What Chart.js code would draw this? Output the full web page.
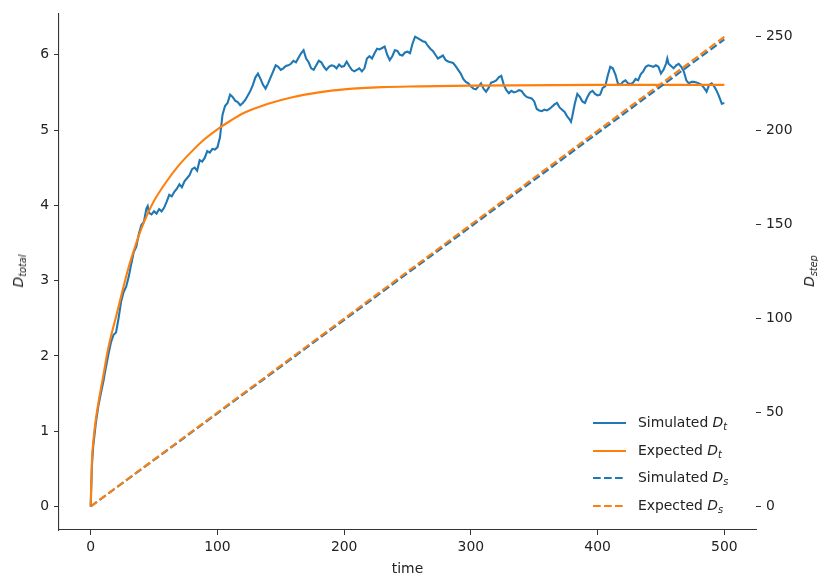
<!DOCTYPE html>
<html>
<head>
<meta charset="utf-8">
<script src="https://cdn.jsdelivr.net/npm/chart.js@4.4.1/dist/chart.umd.min.js"></script>
<style>
  body { margin: 0; background: #fff; }
  #wrap { position: relative; width: 818px; height: 579px; font-family: 'DejaVu Sans', sans-serif; color: #222; }
  #chart { position: absolute; left: 0; top: 0; }
  .ylab { position: absolute; font-size: 13.9px; font-style: italic; white-space: nowrap; transform: translate(-50%, -50%) rotate(-90deg); }
  .ylab sub, .leg sub { font-size: 70%; vertical-align: baseline; position: relative; top: 0.3em; }
  .leg { position: absolute; left: 593px; top: 410px; font-size: 13.9px; }
  .leg div { height: 27.6px; line-height: 24px; white-space: nowrap; }
  .leg svg { vertical-align: middle; margin-right: 12px; }
</style>
</head>
<body>
<div id="wrap">
  <canvas id="chart" width="818" height="579"></canvas>
  <div class="ylab" style="left:18px; top:271px;">D<sub>total</sub></div>
  <div class="ylab" style="left:809px; top:271px;">D<sub>step</sub></div>
  <div class="leg" id="legend"></div>
</div>
<script>
var blue = '#1f77b4';
var orange = '#ff7f0e';

var timeTicks = [0, 100, 200, 300, 400, 500];
var totalTicks = [0, 1, 2, 3, 4, 5, 6];
var stepTicks = [0, 50, 100, 150, 200, 250];

// simulated D_t
var simTime = [0, 1, 2, 4, 6, 8, 10, 12, 14, 16, 18, 20, 22, 24, 26, 28, 30, 32, 34, 36, 38, 40, 42, 44, 45, 46, 48,
  50, 52, 54, 56, 58, 60, 62, 64, 66, 68, 70, 72, 74, 76, 78, 80, 82, 84, 86, 88, 90, 92, 94, 96, 98,
  100, 102, 104, 106, 108, 110, 112, 114, 116, 118, 120, 122, 124, 126, 128, 130, 132, 134, 136, 138, 140, 142, 144, 146, 148,
  150, 152, 154, 156, 158, 160, 162, 164, 166, 168, 170, 172, 174, 176, 178, 180, 182, 184, 186, 188, 190, 192, 194, 196, 198,
  200, 202, 204, 206, 208, 210, 212, 214, 216, 218, 220, 222, 224, 226, 228, 230, 232, 234, 236, 238, 240, 242, 244, 246, 248,
  250, 252, 254, 256, 258, 260, 262, 264, 266, 268, 270, 272, 274, 276, 278, 280, 282, 284, 286, 288, 290, 292, 294, 296, 298,
  300, 302, 304, 306, 308, 310, 312, 314, 316, 318, 320, 322, 324, 326, 328, 330, 332, 334, 336, 338, 340, 342, 344, 346, 348,
  350, 352, 354, 356, 358, 360, 362, 364, 366, 368, 370, 372, 374, 376, 378, 379, 380, 382, 384, 386, 388, 390, 392, 394, 396, 398,
  400, 402, 404, 406, 408, 410, 412, 414, 416, 418, 420, 422, 424, 426, 428, 430, 432, 434, 436, 438, 440, 442, 444, 446, 448,
  450, 452, 454, 455, 456, 458, 460, 462, 464, 466, 468, 470, 472, 474, 476, 478, 480, 482, 484, 486, 488, 490, 492, 494, 496, 498, 500];
var simTotal = [0, 0.55, 0.80, 1.10, 1.33, 1.50, 1.66, 1.85, 2.02, 2.18, 2.28, 2.31, 2.50, 2.72, 2.85, 2.92, 3.05, 3.22, 3.38, 3.45, 3.62, 3.74, 3.78, 3.96, 3.99, 3.90, 3.88,
  3.92, 3.89, 3.95, 3.92, 3.97, 4.05, 4.14, 4.12, 4.18, 4.22, 4.28, 4.24, 4.32, 4.36, 4.40, 4.48, 4.50, 4.46, 4.60, 4.58, 4.63, 4.72, 4.70, 4.75, 4.74,
  4.77, 4.90, 5.20, 5.32, 5.36, 5.47, 5.44, 5.39, 5.37, 5.33, 5.36, 5.40, 5.46, 5.52, 5.60, 5.70, 5.75, 5.68, 5.60, 5.55, 5.62, 5.70, 5.78, 5.86, 5.84,
  5.80, 5.82, 5.85, 5.86, 5.88, 5.92, 5.90, 5.96, 6.02, 6.06, 5.95, 5.90, 5.82, 5.80, 5.86, 5.92, 5.90, 5.84, 5.80, 5.84, 5.86, 5.85, 5.82, 5.87, 5.84,
  5.85, 5.91, 5.85, 5.80, 5.78, 5.80, 5.82, 5.78, 5.82, 5.95, 5.98, 5.95, 6.02, 6.08, 6.07, 6.09, 6.11, 6.00, 5.93, 5.98, 6.06, 6.05, 6.00, 5.99, 6.03,
  6.04, 6.02, 6.15, 6.24, 6.22, 6.20, 6.18, 6.17, 6.12, 6.08, 6.05, 6.00, 5.95, 5.97, 5.99, 5.93, 5.91, 5.90, 5.89, 5.85, 5.80, 5.75, 5.68, 5.64, 5.62,
  5.58, 5.55, 5.54, 5.58, 5.62, 5.55, 5.51, 5.56, 5.63, 5.64, 5.66, 5.70, 5.72, 5.60, 5.53, 5.49, 5.52, 5.50, 5.51, 5.53, 5.52, 5.47, 5.44, 5.43, 5.42,
  5.38, 5.28, 5.26, 5.25, 5.27, 5.26, 5.28, 5.31, 5.34, 5.36, 5.30, 5.27, 5.24, 5.18, 5.14, 5.11, 5.18, 5.35, 5.48, 5.44, 5.38, 5.36, 5.44, 5.50, 5.52, 5.48,
  5.46, 5.47, 5.56, 5.58, 5.72, 5.84, 5.82, 5.74, 5.62, 5.60, 5.64, 5.66, 5.62, 5.61, 5.63, 5.68, 5.66, 5.74, 5.78, 5.84, 5.86, 5.85, 5.84, 5.86, 5.84,
  5.75, 5.80, 5.88, 5.95, 5.88, 5.85, 5.82, 5.86, 5.88, 5.84, 5.78, 5.66, 5.62, 5.64, 5.64, 5.63, 5.62, 5.60, 5.56, 5.51, 5.60, 5.62, 5.58, 5.52, 5.44, 5.35, 5.36];

// expected D_t
var expTime = [0, 1, 2, 4, 6, 8, 10, 13, 16, 20, 25, 30, 35, 40, 45, 50, 60, 70, 80, 90, 100, 110, 120, 130, 140, 160, 180, 200, 230, 260, 300, 400, 500];
var expTotal = [0, 0.62, 0.85, 1.15, 1.37, 1.56, 1.74, 2.03, 2.26, 2.52, 2.86, 3.18, 3.45, 3.69, 3.89, 4.06, 4.32, 4.54, 4.72, 4.88, 5.01, 5.12, 5.22, 5.29, 5.35, 5.44, 5.50, 5.54, 5.57, 5.58, 5.59, 5.60, 5.60];

// D_step (right axis)
var stepTime = [0, 100, 200, 300, 400, 500];
var simStep = [0, 49.6, 99.3, 149.0, 198.7, 248.6];
var expStep = [0, 50, 100, 150, 200, 250];

var legendRows = [
  { name: 'Simulated ', sub: 't', color: blue, dashed: false },
  { name: 'Expected ', sub: 't', color: orange, dashed: false },
  { name: 'Simulated ', sub: 's', color: blue, dashed: true },
  { name: 'Expected ', sub: 's', color: orange, dashed: true }
];

function pts(xs, ys) {
  return xs.map(function (x, i) { return { x: x, y: ys[i] }; });
}

var dash = [7.7, 3.3];
var font = { family: 'DejaVu Sans', size: 13.9 };
var axisColor = '#333';

function fixedTicks(list) {
  return function (scale) {
    scale.ticks = list.map(function (v) { return { value: v }; });
  };
}

new Chart(document.getElementById('chart'), {
  type: 'line',
  data: {
    datasets: [
      { label: 'Expected D_s', data: pts(stepTime, expStep), yAxisID: 'y2', borderColor: orange, borderDash: dash, borderWidth: 2.1, pointRadius: 0, fill: false },
      { label: 'Simulated D_s', data: pts(stepTime, simStep), yAxisID: 'y2', borderColor: blue, borderDash: dash, borderWidth: 2.1, pointRadius: 0, fill: false },
      { label: 'Expected D_t', data: pts(expTime, expTotal), yAxisID: 'y', borderColor: orange, borderWidth: 2.1, pointRadius: 0, fill: false, cubicInterpolationMode: 'monotone' },
      { label: 'Simulated D_t', data: pts(simTime, simTotal), yAxisID: 'y', borderColor: blue, borderWidth: 2.1, pointRadius: 0, fill: false }
    ]
  },
  options: {
    responsive: false,
    animation: false,
    devicePixelRatio: 1,
    layout: { padding: { top: 12, left: 0, right: 0, bottom: 0 } },
    plugins: { legend: { display: false }, tooltip: { enabled: false } },
    scales: {
      x: {
        type: 'linear', min: -25, max: 525,
        afterBuildTicks: fixedTicks(timeTicks),
        afterFit: function (s) { s.height = 49; },
        grid: { drawOnChartArea: false, tickLength: 5, tickColor: axisColor, tickWidth: 1 },
        border: { display: true, color: axisColor, width: 1.1 },
        ticks: { color: '#222', font: font, padding: 4, maxRotation: 0 },
        title: { display: true, text: 'time', color: '#222', font: font, padding: { top: 0, bottom: 1 } }
      },
      y: {
        position: 'left', min: -0.312, max: 6.55,
        afterBuildTicks: fixedTicks(totalTicks),
        afterFit: function (s) { s.width = 59; },
        grid: { drawOnChartArea: false, tickLength: 5, tickColor: axisColor, tickWidth: 1 },
        border: { display: true, color: axisColor, width: 1.1 },
        ticks: { color: '#222', font: font, padding: 5 }
      },
      y2: {
        position: 'right', min: -12.5, max: 262.5,
        afterBuildTicks: fixedTicks(stepTicks),
        afterFit: function (s) { s.width = 62; },
        grid: { drawOnChartArea: false, tickLength: 5, tickColor: axisColor, tickWidth: 1 },
        border: { display: false },
        ticks: { color: '#222', font: font, padding: 5 }
      }
    }
  }
});

// legend with subscripts, built as plain html
var legend = document.getElementById('legend');
legendRows.forEach(function (r) {
  var row = document.createElement('div');
  var line = '<svg width="33" height="6"><line x1="0" y1="3" x2="33" y2="3" stroke="' + r.color +
    '" stroke-width="2.1"' + (r.dashed ? ' stroke-dasharray="7.7 3.3"' : '') + '/></svg>';
  row.innerHTML = line + r.name + '<i>D<sub>' + r.sub + '</sub></i>';
  legend.appendChild(row);
});
</script>
</body>
</html>
